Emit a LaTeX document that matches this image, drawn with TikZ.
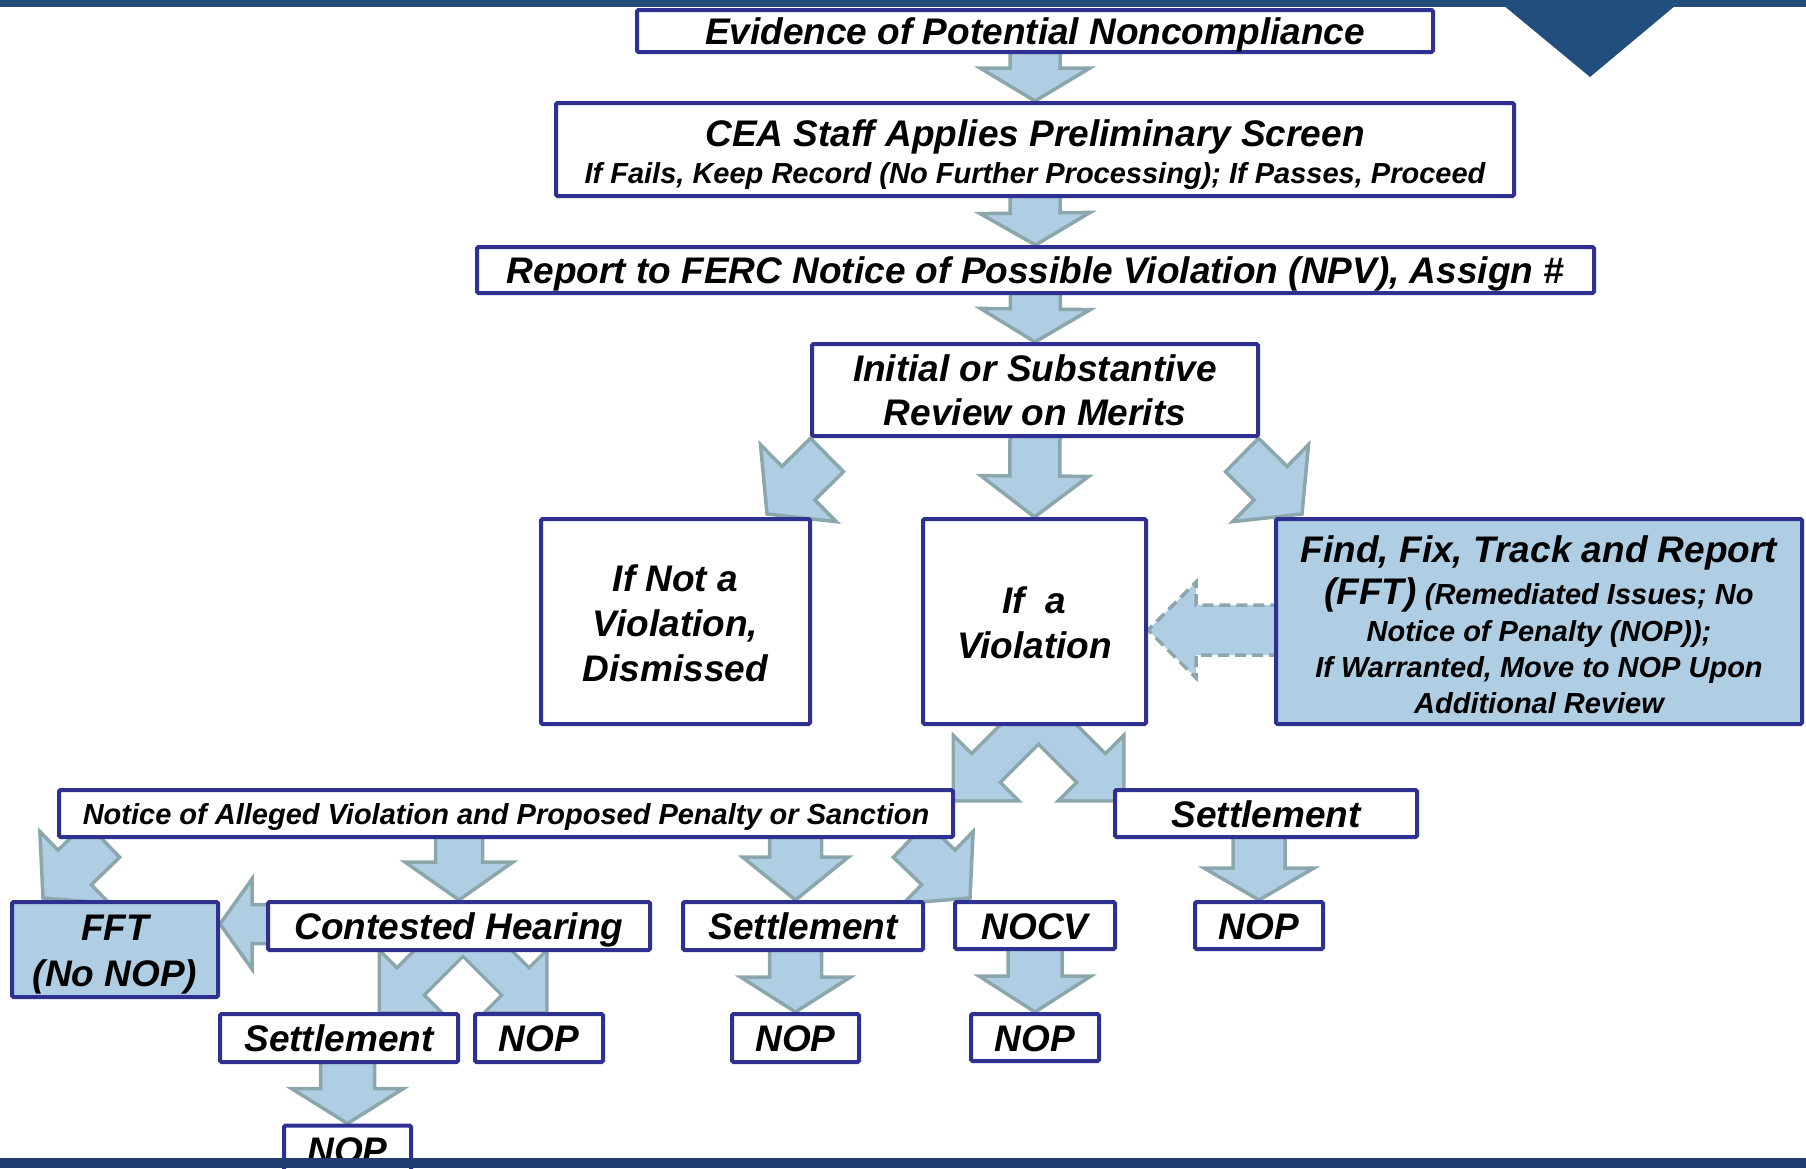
\documentclass[tikz,border=0pt]{standalone}
\usepackage{fontspec}
\setmainfont{Liberation Sans}
\usetikzlibrary{calc}
\pgfdeclarelayer{background}
\pgfdeclarelayer{front}
\pgfsetlayers{background,main,front}
\definecolor{navy}{HTML}{2E3192}
\definecolor{lblue}{HTML}{AFCDE3}
\definecolor{agrey}{HTML}{8CA7AB}
\definecolor{bandtop}{HTML}{224E7E}
\definecolor{bandbot}{HTML}{1F3D6F}
\tikzset{
  box/.style={draw=navy, line width=4pt, fill=white, rounded corners=1.5pt, inner sep=0pt,
    align=center, font=\bfseries\itshape\fontsize{37}{44}\selectfont, text height=27.5pt, text depth=0pt},
  bluebox/.style={box, fill=lblue},
  smallbox/.style={box, font=\bfseries\itshape\fontsize{29}{36}\selectfont, text height=22.4pt},
  multi/.style={text height=#1, text depth=0pt},
  blockarrow/.style={draw=agrey, fill=lblue, line width=3.5pt, line join=miter},
  dasharrow/.style={blockarrow, dash pattern=on 11pt off 6pt},
}
% #1 options, #2 start, #3 tip, #4 shaft half width, #5 head half width, #6 head length, #7 backward extension
\newcommand{\barrow}[7][]{%
  \coordinate (ba) at ($(#2)!-#7!(#3)$);
  \coordinate (bh) at ($(#3)!#6!(#2)$);
  \path[blockarrow,#1] ($(ba)!#4!90:(#3)$) -- ($(bh)!#4!90:(#3)$) -- ($(bh)!#5!90:(#3)$) -- (#3)
    -- ($(bh)!#5!-90:(#3)$) -- ($(bh)!#4!-90:(#3)$) -- ($(ba)!#4!-90:(#3)$) -- cycle;
}
\begin{document}
\begin{tikzpicture}[x=1pt, y=-1pt]
\useasboundingbox (0,0) rectangle (1806,1168);

% boxes
\node[box, minimum width=796pt, minimum height=42pt] (ev) at (1035,31) {Evidence of Potential Noncompliance};
\node[box, minimum width=958pt, minimum height=93pt, font=\bfseries\itshape\fontsize{29}{36.3}\selectfont, multi=67.4pt] (cea) at (1035,149.5)
  {{\fontsize{37}{44}\selectfont CEA Staff Applies Preliminary Screen}\\If Fails, Keep Record (No Further Processing); If Passes, Proceed};
\node[box, minimum width=1117pt, minimum height=46pt] (rep) at (1035.5,270) {Report to FERC Notice of Possible Violation (NPV), Assign \#};
\node[box, minimum width=446pt, minimum height=92pt, font=\bfseries\itshape\fontsize{37}{43.7}\selectfont, multi=71.2pt] (init) at (1035,390) {Initial or Substantive\\Review on Merits};
\node[box, minimum width=269pt, minimum height=205pt, font=\bfseries\itshape\fontsize{37}{44.9}\selectfont, multi=119.6pt] (notv) at (675.5,621.5) {If Not a\\Violation,\\Dismissed};
\node[box, minimum width=223pt, minimum height=205pt, font=\bfseries\itshape\fontsize{37}{44.9}\selectfont, multi=73.6pt] (viol) at (1034.5,621.5) {If\ \ a\\Violation};
\node[bluebox, minimum width=526pt, minimum height=205pt, font=\bfseries\itshape\fontsize{29}{36.3}\selectfont, multi=184.2pt] (fft) at (1539,621.5)
  {{\fontsize{37}{44}\selectfont Find, Fix, Track and Report}\\[5.7pt]{\fontsize{37}{44}\selectfont (FFT)} (Remediated Issues; No\\Notice of Penalty (NOP));\\If Warranted, Move to NOP Upon\\Additional Review};
\node[smallbox, minimum width=894pt, minimum height=47pt] (nav) at (506,813.5) {Notice of Alleged Violation and Proposed Penalty or Sanction};
\node[box, minimum width=302pt, minimum height=47pt] (setr) at (1266,813.5) {Settlement};
\node[bluebox, minimum width=206pt, minimum height=95pt, font=\bfseries\itshape\fontsize{37}{46.1}\selectfont, multi=74pt] (fftn) at (115,949.5) {FFT\\(No NOP)};
\node[box, minimum width=382pt, minimum height=48pt] (con) at (459,926) {Contested Hearing};
\node[box, minimum width=240pt, minimum height=48pt] (setm) at (803,926) {Settlement};
\node[box, minimum width=160pt, minimum height=47pt] (nocv) at (1035,925.5) {NOCV};
\node[box, minimum width=128pt, minimum height=47pt] (nopr) at (1259,925.5) {NOP};
\node[box, minimum width=238pt, minimum height=48pt] (setl) at (339,1038) {Settlement};
\node[box, minimum width=128pt, minimum height=48pt] (nop1) at (539,1038) {NOP};
\node[box, minimum width=127pt, minimum height=48pt] (nop2) at (795.5,1038) {NOP};
\node[box, minimum width=128pt, minimum height=47pt] (nop3) at (1035,1037.5) {NOP};
\node[box, minimum width=127pt, minimum height=48pt] (nopb) at (347.5,1149.5) {NOP};

% arrows
\begin{pgfonlayer}{background}
\barrow{ev.south}{cea.north}{25pt}{55pt}{33pt}{6pt}
\barrow{cea.south}{rep.north}{25pt}{55pt}{32pt}{6pt}
\barrow{rep.south}{init.north}{25pt}{55pt}{33pt}{6pt}
\barrow{init.south}{viol.north}{25pt}{54pt}{41pt}{6pt}
\coordinate (d1a) at (827,455); \coordinate (d1b) at (767,514);
\coordinate (d2a) at (1242,455); \coordinate (d2b) at (1302,514);
\barrow{d1a}{d1b}{23.5pt}{54pt}{44pt}{0pt}
\barrow{d2a}{d2b}{23.5pt}{54pt}{44pt}{0pt}
\coordinate (d3a) at ([yshift=-8.5pt]fft.west);
\coordinate (d3b) at ([yshift=-8.5pt]viol.east);
\barrow[dasharrow]{d3a}{d3b}{25pt}{48pt}{48pt}{6pt}
% split below "If a Violation"
\coordinate (s1a) at (1045,709); \coordinate (s1b) at (955,799);
\coordinate (s2a) at (1032,709); \coordinate (s2b) at (1122,799);
\barrow[fill=none, line width=7pt]{s1a}{s1b}{18.5pt}{42pt}{42pt}{0pt}
\barrow[fill=none, line width=7pt]{s2a}{s2b}{18.5pt}{42pt}{42pt}{0pt}
\barrow[draw=none]{s1a}{s1b}{18.5pt}{42pt}{42pt}{0pt}
\barrow[draw=none]{s2a}{s2b}{18.5pt}{42pt}{42pt}{0pt}
% below Notice
\coordinate (n1a) at (103,840); \coordinate (n1b) at (43,898);
\barrow{n1a}{n1b}{24pt}{50pt}{44pt}{0pt}
\coordinate (n2a) at (nav.south -| con.north);
\barrow{n2a}{con.north}{23.5pt}{54pt}{38pt}{6pt}
\coordinate (n3a) at (nav.south -| nop2.north);
\coordinate (n3b) at (setm.north -| nop2.north);
\barrow{n3a}{n3b}{26pt}{53pt}{43pt}{6pt}
\coordinate (n4a) at (910,840); \coordinate (n4b) at (970,898);
\barrow{n4a}{n4b}{24pt}{50pt}{44pt}{0pt}
% contested hearing
\coordinate (c1a) at ([yshift=2pt]con.west);
\coordinate (c1b) at ([yshift=25.5pt]fftn.east);
\barrow{c1a}{c1b}{19.5pt}{45pt}{32pt}{6pt}
\coordinate (c2a) at (465,927); \coordinate (c2b) at (381,1011);
\coordinate (c3a) at (461,927); \coordinate (c3b) at (545,1011);
\barrow[fill=none, line width=7pt]{c2a}{c2b}{17.5pt}{40pt}{40pt}{0pt}
\barrow[fill=none, line width=7pt]{c3a}{c3b}{17.5pt}{40pt}{40pt}{0pt}
\barrow[draw=none]{c2a}{c2b}{17.5pt}{40pt}{40pt}{0pt}
\barrow[draw=none]{c3a}{c3b}{17.5pt}{40pt}{40pt}{0pt}
% lower verticals
\coordinate (m1a) at (setm.south -| nop2.north);
\barrow{m1a}{nop2.north}{26pt}{55pt}{35pt}{6pt}
\coordinate (l1a) at (setl.south -| nopb.north);
\barrow{l1a}{nopb.north}{27pt}{56pt}{35pt}{6pt}
\barrow{nocv.south}{nop3.north}{27pt}{56pt}{36pt}{6pt}
\coordinate (r1a) at (setr.south -| nopr.north);
\barrow{r1a}{nopr.north}{26pt}{55pt}{32pt}{6pt}
\end{pgfonlayer}

% decorative bands
\begin{pgfonlayer}{front}
\fill[bandtop] (0,0) rectangle (1806,7);
\fill[bandtop] (1497,0) -- (1682,0) -- (1590,77) -- cycle;
\fill[bandbot] (0,1158) rectangle (1806,1168);
\end{pgfonlayer}
\end{tikzpicture}
\end{document}
